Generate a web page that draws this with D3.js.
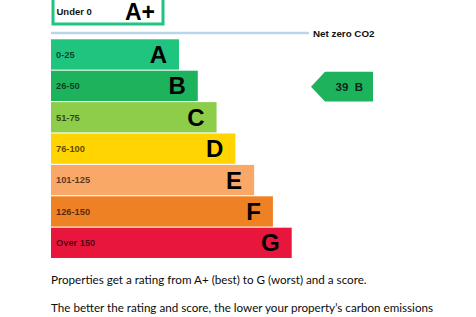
<!DOCTYPE html>
<html>
<head>
<meta charset="utf-8">
<script src="https://cdn.jsdelivr.net/npm/d3@7"></script>
<style>
  html, body { margin: 0; padding: 0; background: #fff; }
  svg { display: block; }
</style>
</head>
<body>
<div id="chart"></div>
<script>
// rating bands, top to bottom
var ratings = ["A", "B", "C", "D", "E", "F", "G"];
var ranges = ["0-25", "26-50", "51-75", "76-100", "101-125", "126-150", "Over 150"];
var colors = ["#1fc47f", "#1db35d", "#8dcd4a", "#ffd400", "#f9a867", "#ef8125", "#e8163c"];

// the property's score
var score = 39;
var scoreRating = "B";

var topBand = { label: "Under 0", rating: "A+" };
var netZeroLabel = "Net zero CO2";

var notes = [
  "Properties get a rating from A+ (best) to G (worst) and a score.",
  "The better the rating and score, the lower your property\u2019s carbon emissions"
];

var svgWidth = 476, svgHeight = 317;
var left = 51;

var svg = d3.select("#chart")
  .append("svg")
  .attr("width", svgWidth)
  .attr("height", svgHeight);

var y = d3.scaleBand()
  .domain(ratings)
  .range([39.3, 258])
  .paddingInner(0.035);

// bar right edge grows with each step down
var xEnd = d3.scaleLinear()
  .domain([0, ratings.length - 1])
  .range([179, 291.7]);

// A+ box, cut off at the top
svg.append("rect")
  .attr("x", 53)
  .attr("y", -20)
  .attr("width", 110)
  .attr("height", 44)
  .attr("fill", "#fff")
  .attr("stroke", "#1fc47f")
  .attr("stroke-width", 3);

svg.append("text")
  .attr("x", 56.5)
  .attr("y", 15)
  .attr("font-family", "Liberation Sans, Arial, sans-serif")
  .attr("font-weight", "bold")
  .attr("font-size", 9.5)
  .attr("fill", "#111")
  .text(topBand.label);

svg.append("text")
  .attr("x", 155)
  .attr("y", 20)
  .attr("text-anchor", "end")
  .attr("font-family", "Liberation Sans, Arial, sans-serif")
  .attr("font-weight", "bold")
  .attr("font-size", 23)
  .attr("fill", "#000")
  .text(topBand.rating);

// net zero line
svg.append("line")
  .attr("x1", left)
  .attr("x2", 309)
  .attr("y1", 33)
  .attr("y2", 33)
  .attr("stroke", "#b8d5ea")
  .attr("stroke-width", 2.5);

svg.append("text")
  .attr("x", 313)
  .attr("y", 36.5)
  .attr("font-family", "Liberation Sans, Arial, sans-serif")
  .attr("font-weight", "bold")
  .attr("font-size", 9.8)
  .attr("fill", "#111")
  .text(netZeroLabel);

// bars
var rows = svg.selectAll("g.row")
  .data(ratings)
  .enter()
  .append("g")
  .attr("class", "row");

rows.append("rect")
  .attr("x", left)
  .attr("y", d => y(d))
  .attr("width", (d, i) => xEnd(i) - left)
  .attr("height", y.bandwidth())
  .attr("fill", (d, i) => colors[i]);

rows.append("text")
  .attr("x", 56)
  .attr("y", d => y(d) + y.bandwidth() / 2)
  .attr("dy", "0.36em")
  .attr("font-family", "Liberation Sans, Arial, sans-serif")
  .attr("font-weight", "bold")
  .attr("font-size", 9.3)
  .attr("fill", "#000")
  .attr("fill-opacity", 0.68)
  .text((d, i) => ranges[i]);

rows.append("text")
  .attr("x", (d, i) => xEnd(i) - 12)
  .attr("y", d => y(d) + y.bandwidth() / 2)
  .attr("dy", "0.36em")
  .attr("text-anchor", "end")
  .attr("font-family", "Liberation Sans, Arial, sans-serif")
  .attr("font-weight", "bold")
  .attr("font-size", 24)
  .attr("fill", "#000")
  .text(d => d);

// score arrow
var ay = y(scoreRating), ah = y.bandwidth();
var tipX = 311, shoulderX = 325, rightX = 373;
svg.append("path")
  .attr("d", "M" + tipX + "," + (ay + ah / 2 + 1) +
    "L" + shoulderX + "," + (ay + 1) +
    "L" + rightX + "," + (ay + 1) +
    "L" + rightX + "," + (ay + ah + 0.5) +
    "L" + shoulderX + "," + (ay + ah + 0.5) + "Z")
  .attr("fill", colors[ratings.indexOf(scoreRating)]);

svg.append("text")
  .attr("x", 363)
  .attr("y", ay + ah / 2 + 1)
  .attr("dy", "0.36em")
  .attr("text-anchor", "end")
  .attr("font-family", "Liberation Sans, Arial, sans-serif")
  .attr("font-weight", "bold")
  .attr("font-size", 11.5)
  .attr("fill", "#0d2616")
  .attr("xml:space", "preserve")
  .text(score + "  " + scoreRating);

// notes under the chart
svg.selectAll("text.note")
  .data(notes)
  .enter()
  .append("text")
  .attr("class", "note")
  .attr("x", left)
  .attr("y", (d, i) => 283.5 + i * 28.2)
  .attr("font-family", "Lato, sans-serif")
  .attr("font-size", 11.65)
  .attr("fill", "#0b0c0c")
  .text(d => d);
</script>
</body>
</html>
